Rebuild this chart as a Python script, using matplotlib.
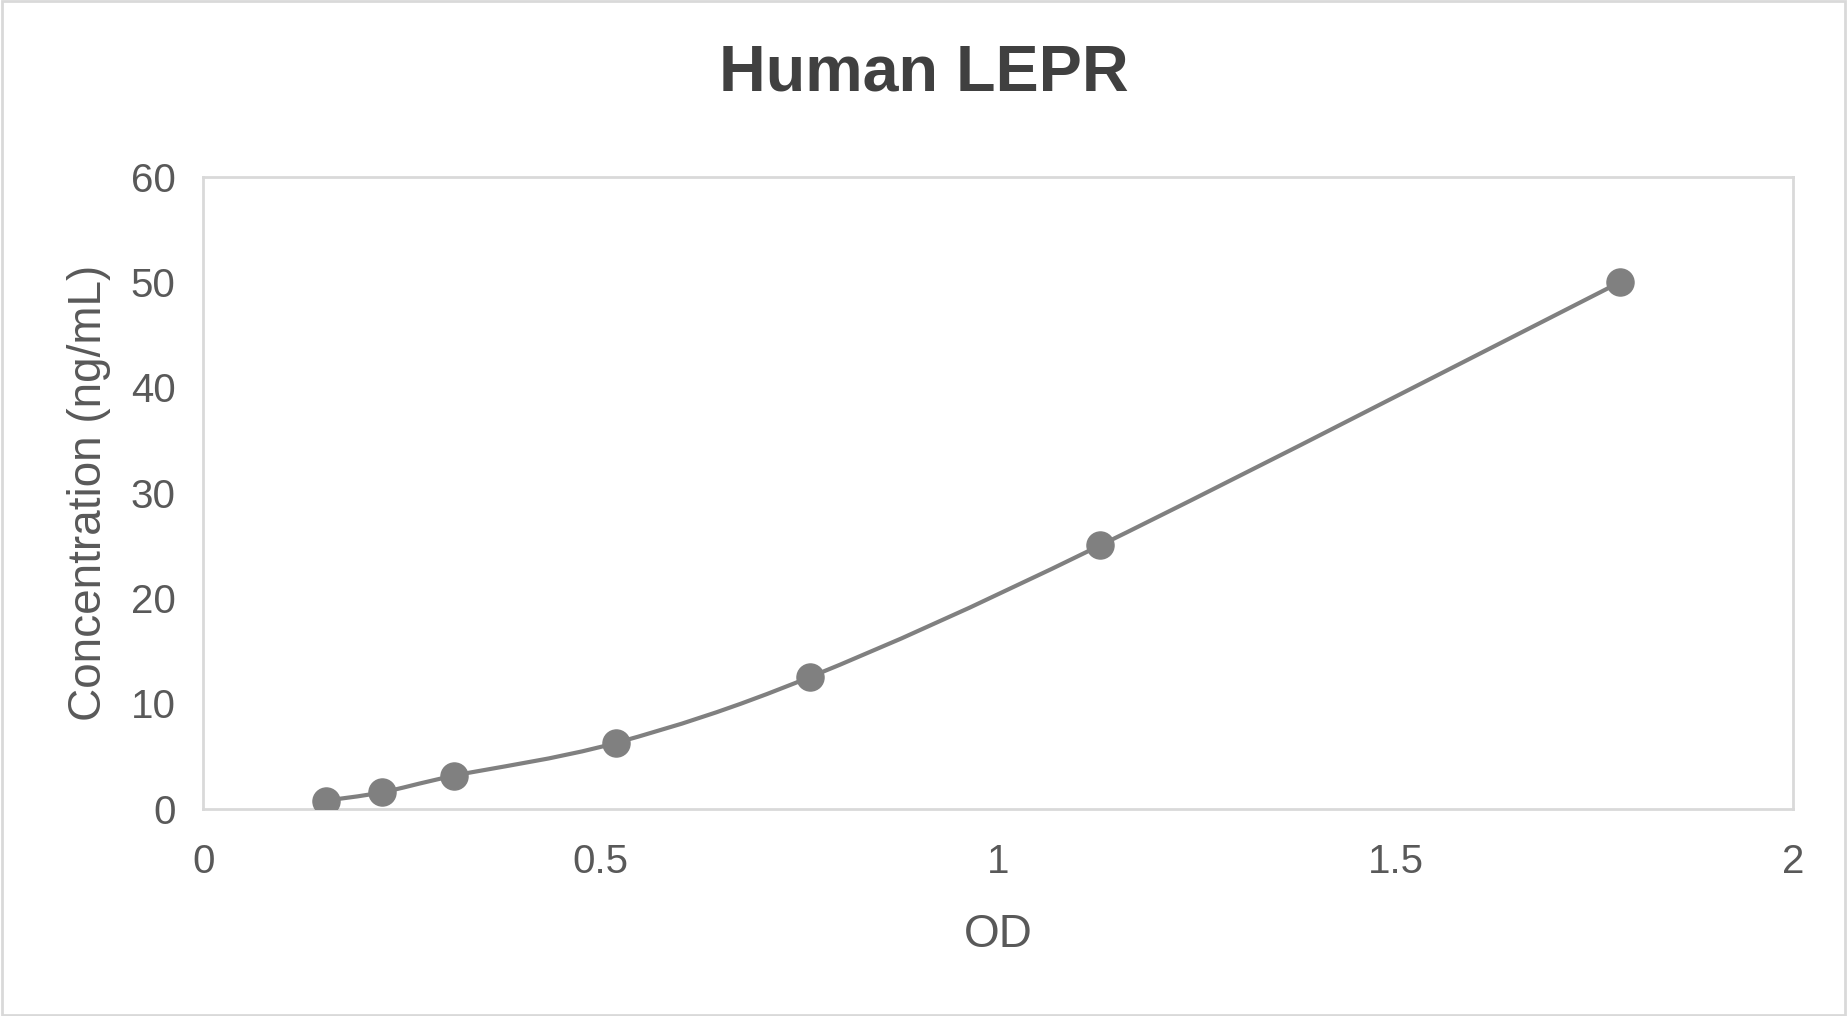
import matplotlib
matplotlib.use('Agg')
import matplotlib.pyplot as plt
from matplotlib.path import Path
from matplotlib.patches import PathPatch, Rectangle
import numpy as np

plt.rcParams['font.family'] = ['Liberation Sans', 'DejaVu Sans']

# standard curve points
od = [0.155, 0.225, 0.315, 0.519, 0.763, 1.128, 1.782]
conc = [0.78, 1.56, 3.125, 6.25, 12.5, 25, 50]

xticks = [0, 0.5, 1, 1.5, 2]
xlabels = ['0', '0.5', '1', '1.5', '2']
yticks = [0, 10, 20, 30, 40, 50, 60]

line_col = '#808080'
text_col = '#595959'
grid_col = '#d9d9d9'

fig = plt.figure(figsize=(18.47, 10.16), dpi=100)
ax = fig.add_axes([0.110, 0.204, 0.861, 0.622])

# smoothed line like excel (bezier through the points)
pts = np.column_stack([od, conc])
ext = np.vstack([pts[0], pts, pts[-1]])
verts = [pts[0]]
codes = [Path.MOVETO]
for i in range(len(pts) - 1):
    p0, p1, p2, p3 = ext[i], ext[i + 1], ext[i + 2], ext[i + 3]
    c1 = p1 + (p2 - p0) / 6.0
    c2 = p2 - (p3 - p1) / 6.0
    verts += [c1, c2, p2]
    codes += [Path.CURVE4] * 3
ax.add_patch(PathPatch(Path(verts, codes), facecolor='none', edgecolor=line_col,
                       lw=3.0, zorder=2))
ax.plot(od, conc, 'o', color=line_col, ms=19.5, zorder=3)

ax.set_xlim(0, 2)
ax.set_ylim(0, 60)
ax.set_xticks(xticks)
ax.set_xticklabels(xlabels)
ax.set_yticks(yticks)
ax.tick_params(length=0, labelsize=29, labelcolor=text_col)
ax.tick_params(axis='x', pad=25)
ax.tick_params(axis='y', pad=20)
for s in ax.spines.values():
    s.set_color(grid_col)
    s.set_linewidth(2)

ax.set_xlabel('OD', fontsize=33, color=text_col, labelpad=23)
ax.set_ylabel('Concentration (ng/mL)', fontsize=33, color=text_col, labelpad=14)
fig.suptitle('Human LEPR', fontsize=46.5, fontweight='bold', color='#404040', y=0.957)

fig.patches.append(Rectangle((0.001, 0.001), 0.998, 0.998, transform=fig.transFigure,
                             fill=False, edgecolor=grid_col, lw=2))

fig.savefig('out.png', dpi=100, facecolor='white')
